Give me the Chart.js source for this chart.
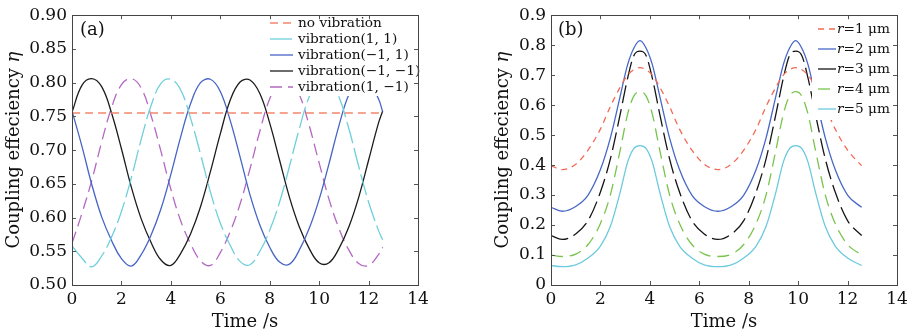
<!DOCTYPE html>
<html>
<head>
<meta charset="utf-8">
<script src="https://cdn.jsdelivr.net/npm/chart.js@4.4.1/dist/chart.umd.min.js"></script>
<style>
    html, body { margin: 0; padding: 0; background: #fff; }
    #wrap { position: relative; width: 912px; height: 334px; }
    .panel { position: absolute; top: 0; width: 456px; height: 334px; }
</style>
</head>
<body>
<div id="wrap">
    <div class="panel" style="left:0"><canvas id="chartA" width="456" height="334"></canvas></div>
    <div class="panel" style="left:456px"><canvas id="chartB" width="456" height="334"></canvas></div>
</div>
<script>
// Dados (a)
const timeA = [0, 0.4, 0.8, 1.2, 1.6, 2.0, 2.4, 2.8, 3.2, 3.6, 4.0, 4.4, 4.8, 5.2, 5.6, 6.0,
    6.4, 6.8, 7.2, 7.6, 8.0, 8.4, 8.8, 9.2, 9.6, 10.0, 10.4, 10.8, 11.2, 11.6, 12.0, 12.4, 12.57];
const noVibTime = [0, 12.57];
const noVibration = [0.755, 0.755];
const vib11 = [0.558, 0.540, 0.527, 0.543, 0.571, 0.609, 0.659, 0.716, 0.766, 0.799, 0.805, 0.789,
    0.747, 0.694, 0.638, 0.592, 0.559, 0.535, 0.530, 0.550, 0.581, 0.623, 0.676, 0.732, 0.779,
    0.803, 0.803, 0.779, 0.732, 0.676, 0.623, 0.581, 0.567];
const vibM11 = [0.758, 0.706, 0.649, 0.601, 0.566, 0.539, 0.528, 0.545, 0.574, 0.613, 0.664, 0.720,
    0.769, 0.800, 0.805, 0.787, 0.744, 0.690, 0.634, 0.589, 0.556, 0.534, 0.531, 0.552, 0.584,
    0.627, 0.680, 0.736, 0.782, 0.804, 0.802, 0.776, 0.757];
const vibM1M1 = [0.756, 0.796, 0.806, 0.794, 0.755, 0.702, 0.645, 0.598, 0.563, 0.537, 0.529, 0.547,
    0.576, 0.616, 0.668, 0.724, 0.774, 0.801, 0.804, 0.784, 0.740, 0.685, 0.630, 0.586, 0.554,
    0.533, 0.533, 0.554, 0.586, 0.630, 0.685, 0.740, 0.758];
const vib1M1 = [0.562, 0.606, 0.655, 0.712, 0.763, 0.797, 0.806, 0.792, 0.751, 0.698, 0.642, 0.595,
    0.561, 0.536, 0.529, 0.548, 0.579, 0.620, 0.672, 0.728, 0.776, 0.802, 0.804, 0.782, 0.736,
    0.681, 0.627, 0.584, 0.552, 0.532, 0.529, 0.545, 0.556];
const labelsA = ['no vibration', 'vibration(1, 1)', 'vibration(\u22121, 1)', 'vibration(\u22121, \u22121)', 'vibration(1, \u22121)'];

// Dados (b)
const timeB = [0, 0.45, 1.0, 1.5, 2.0, 2.4, 2.8, 3.1, 3.35, 3.6, 3.85, 4.1, 4.4, 4.8, 5.2, 5.7,
    6.2, 6.75, 7.3, 7.8, 8.3, 8.7, 9.1, 9.4, 9.65, 9.9, 10.15, 10.4, 10.7, 11.1, 11.5, 12.0, 12.57];
const r1 = [0.398, 0.385, 0.403, 0.45, 0.52, 0.595, 0.66, 0.70, 0.718, 0.725, 0.718, 0.70, 0.66,
    0.595, 0.52, 0.45, 0.403, 0.385, 0.403, 0.45, 0.52, 0.595, 0.66, 0.70, 0.718, 0.725, 0.718,
    0.70, 0.66, 0.595, 0.52, 0.45, 0.398];
const r2 = [0.259, 0.246, 0.262, 0.30, 0.385, 0.49, 0.63, 0.735, 0.79, 0.815, 0.79, 0.735, 0.63,
    0.49, 0.385, 0.30, 0.262, 0.246, 0.262, 0.30, 0.385, 0.49, 0.63, 0.735, 0.79, 0.815, 0.79,
    0.735, 0.63, 0.49, 0.385, 0.30, 0.259];
const r3 = [0.165, 0.152, 0.17, 0.215, 0.31, 0.42, 0.57, 0.69, 0.765, 0.78, 0.765, 0.69, 0.57,
    0.42, 0.31, 0.215, 0.17, 0.152, 0.17, 0.215, 0.31, 0.42, 0.57, 0.69, 0.765, 0.78, 0.765,
    0.69, 0.57, 0.42, 0.31, 0.215, 0.165];
const r4 = [0.10, 0.095, 0.103, 0.135, 0.205, 0.30, 0.45, 0.57, 0.63, 0.645, 0.63, 0.57, 0.45,
    0.30, 0.205, 0.135, 0.103, 0.095, 0.103, 0.135, 0.205, 0.30, 0.45, 0.57, 0.63, 0.645, 0.63,
    0.57, 0.45, 0.30, 0.205, 0.135, 0.10];
const r5 = [0.065, 0.061, 0.067, 0.09, 0.13, 0.195, 0.31, 0.41, 0.455, 0.465, 0.455, 0.41, 0.31,
    0.195, 0.13, 0.09, 0.067, 0.061, 0.067, 0.09, 0.13, 0.195, 0.31, 0.41, 0.455, 0.465, 0.455,
    0.41, 0.31, 0.195, 0.13, 0.09, 0.065];
const labelsB = ['r=1 \u03bcm', 'r=2 \u03bcm', 'r=3 \u03bcm', 'r=4 \u03bcm', 'r=5 \u03bcm'];

const xTicks = [0, 2, 4, 6, 8, 10, 12, 14];

const SERIF = "'DejaVu Serif', serif";
Chart.defaults.font.family = SERIF;
Chart.defaults.color = '#111';

function toPoints(xs, ys) {
    return ys.map((y, i) => ({ x: xs[i], y: y }));
}

// smooth: true -> curva cardinal (a); false -> monotone (b)
function line(label, xs, ys, color, dash, smooth) {
    const ds = {
        label: label,
        data: toPoints(xs, ys),
        borderColor: color,
        borderWidth: 1.3,
        borderDash: dash || [],
        pointRadius: 0,
        fill: false
    };
    if (smooth) {
        ds.tension = 0.4;
    } else {
        ds.cubicInterpolationMode = 'monotone';
    }
    return ds;
}

// Moldura com marcas internas nos quatro lados
const frameTicks = {
    id: 'frameTicks',
    afterDraw(chart) {
        const { ctx, chartArea: a, scales } = chart;
        ctx.save();
        ctx.strokeStyle = '#555';
        ctx.lineWidth = 1;
        ctx.setLineDash([]);
        ctx.beginPath();
        scales.x.ticks.forEach(t => {
            const px = Math.round(scales.x.getPixelForValue(t.value)) + 0.5;
            ctx.moveTo(px, a.bottom); ctx.lineTo(px, a.bottom - 4);
            ctx.moveTo(px, a.top); ctx.lineTo(px, a.top + 4);
        });
        scales.y.ticks.forEach(t => {
            const py = Math.round(scales.y.getPixelForValue(t.value)) + 0.5;
            ctx.moveTo(a.left, py); ctx.lineTo(a.left + 4, py);
            ctx.moveTo(a.right, py); ctx.lineTo(a.right - 4, py);
        });
        ctx.stroke();
        ctx.strokeStyle = '#444';
        ctx.strokeRect(Math.round(a.left) + 0.5, Math.round(a.top) + 0.5,
            Math.round(a.right - a.left), Math.round(a.bottom - a.top));
        ctx.restore();
    }
};

// Legenda com fundo branco dentro da área do gráfico
const boxLegend = {
    id: 'boxLegend',
    afterDatasetsDraw(chart, args, o) {
        const { ctx, chartArea: a } = chart;
        ctx.save();
        ctx.fillStyle = '#fff';
        ctx.fillRect(o.left, a.top + 1, a.right - o.left - 1, o.bottom - a.top - 1);
        chart.data.datasets.forEach((ds, i) => {
            const y = o.y0 + i * o.dy;
            ctx.strokeStyle = ds.borderColor;
            ctx.lineWidth = ds.borderWidth;
            ctx.setLineDash(ds.borderDash);
            ctx.beginPath();
            ctx.moveTo(o.x0, y);
            ctx.lineTo(o.x1, y);
            ctx.stroke();
            ctx.fillStyle = '#111';
            ctx.textBaseline = 'middle';
            let x = o.tx;
            let text = ds.label;
            if (o.italicLead) {
                ctx.font = 'italic ' + o.size + 'px ' + SERIF;
                ctx.fillText(text[0], x, y);
                x += ctx.measureText(text[0]).width;
                text = text.slice(1);
            }
            ctx.font = o.size + 'px ' + SERIF;
            ctx.fillText(text, x, y);
        });
        ctx.restore();
    }
};

// Título do eixo y com η em itálico, e rótulo do painel
const yTitle = {
    id: 'yTitle',
    afterDraw(chart, args, o) {
        const { ctx, chartArea: a } = chart;
        const normal = '18px ' + SERIF;
        const italic = 'italic 18px ' + SERIF;
        ctx.save();
        ctx.fillStyle = '#111';
        ctx.textBaseline = 'middle';
        ctx.font = normal;
        ctx.fillText(o.tag, o.tagX, o.tagY);
        ctx.translate(o.x, (a.top + a.bottom) / 2);
        ctx.rotate(-Math.PI / 2);
        const w1 = ctx.measureText(o.text).width;
        ctx.font = italic;
        const w2 = ctx.measureText(o.symbol).width;
        const start = -(w1 + w2) / 2;
        ctx.font = normal;
        ctx.fillText(o.text, start, 0);
        ctx.font = italic;
        ctx.fillText(o.symbol, start + w1, 0);
        ctx.restore();
    }
};

function baseOptions(yMin, yMax, yStep, yFormat, yWidth, padRight, legend, title) {
    return {
        responsive: false,
        animation: false,
        layout: { padding: { left: 0, right: padRight, top: 13, bottom: 0 } },
        plugins: {
            legend: { display: false },
            tooltip: { enabled: false },
            boxLegend: legend,
            yTitle: title
        },
        scales: {
            x: {
                type: 'linear',
                min: 0,
                max: 14,
                afterBuildTicks: scale => { scale.ticks = xTicks.map(v => ({ value: v })); },
                afterFit: scale => { scale.height = 49; },
                grid: { display: false, drawTicks: false },
                border: { display: false },
                ticks: { padding: 4, font: { size: 17 }, color: '#111', maxRotation: 0 },
                title: { display: true, text: 'Time /s', font: { size: 18, lineHeight: 1 }, padding: { top: 0, bottom: 3 }, color: '#111' }
            },
            y: {
                min: yMin,
                max: yMax,
                afterFit: scale => { scale.width = yWidth; },
                grid: { display: false, drawTicks: false },
                border: { display: false },
                ticks: { stepSize: yStep, padding: 5, font: { size: 17 }, color: '#111', callback: yFormat }
            }
        }
    };
}

function createChartA() {
    const ctx = document.getElementById('chartA').getContext('2d');
    return new Chart(ctx, {
        type: 'line',
        data: {
            datasets: [
                line(labelsA[0], noVibTime, noVibration, '#f3876f', [8, 5], true),
                line(labelsA[1], timeA, vib11, '#6fcfdc', [22, 5], true),
                line(labelsA[2], timeA, vibM11, '#4664c4', [], true),
                line(labelsA[3], timeA, vibM1M1, '#1c1c1c', [], true),
                line(labelsA[4], timeA, vib1M1, '#b468c2', [12, 6], true)
            ]
        },
        options: baseOptions(0.5, 0.9, 0.05, v => v.toFixed(2), 72, 38,
            { left: 266, bottom: 96, x0: 270, x1: 293, tx: 298, y0: 23, dy: 16, size: 13.7, italicLead: false },
            { x: 14, text: 'Coupling effeciency ', symbol: '\u03b7', tag: '(a)', tagX: 80, tagY: 30 }),
        plugins: [boxLegend, yTitle, frameTicks]
    });
}

function createChartB() {
    const ctx = document.getElementById('chartB').getContext('2d');
    return new Chart(ctx, {
        type: 'line',
        data: {
            datasets: [
                line(labelsB[0], timeB, r1, '#f26a52', [6, 5]),
                line(labelsB[1], timeB, r2, '#4868c6'),
                line(labelsB[2], timeB, r3, '#151515', [18, 6]),
                line(labelsB[3], timeB, r4, '#78c44c', [12, 7]),
                line(labelsB[4], timeB, r5, '#6ccade')
            ]
        },
        options: baseOptions(0, 0.9, 0.1, v => (v === 0 ? '0' : v.toFixed(1)), 95, 15,
            { left: 356, bottom: 120, x0: 362, x1: 380, tx: 381, y0: 29, dy: 20, size: 13.7, italicLead: true },
            { x: 47, text: 'Coupling effeciency ', symbol: '\u03b7', tag: '(b)', tagX: 102, tagY: 30 }),
        plugins: [boxLegend, yTitle, frameTicks]
    });
}

createChartA();
createChartB();
</script>
</body>
</html>
